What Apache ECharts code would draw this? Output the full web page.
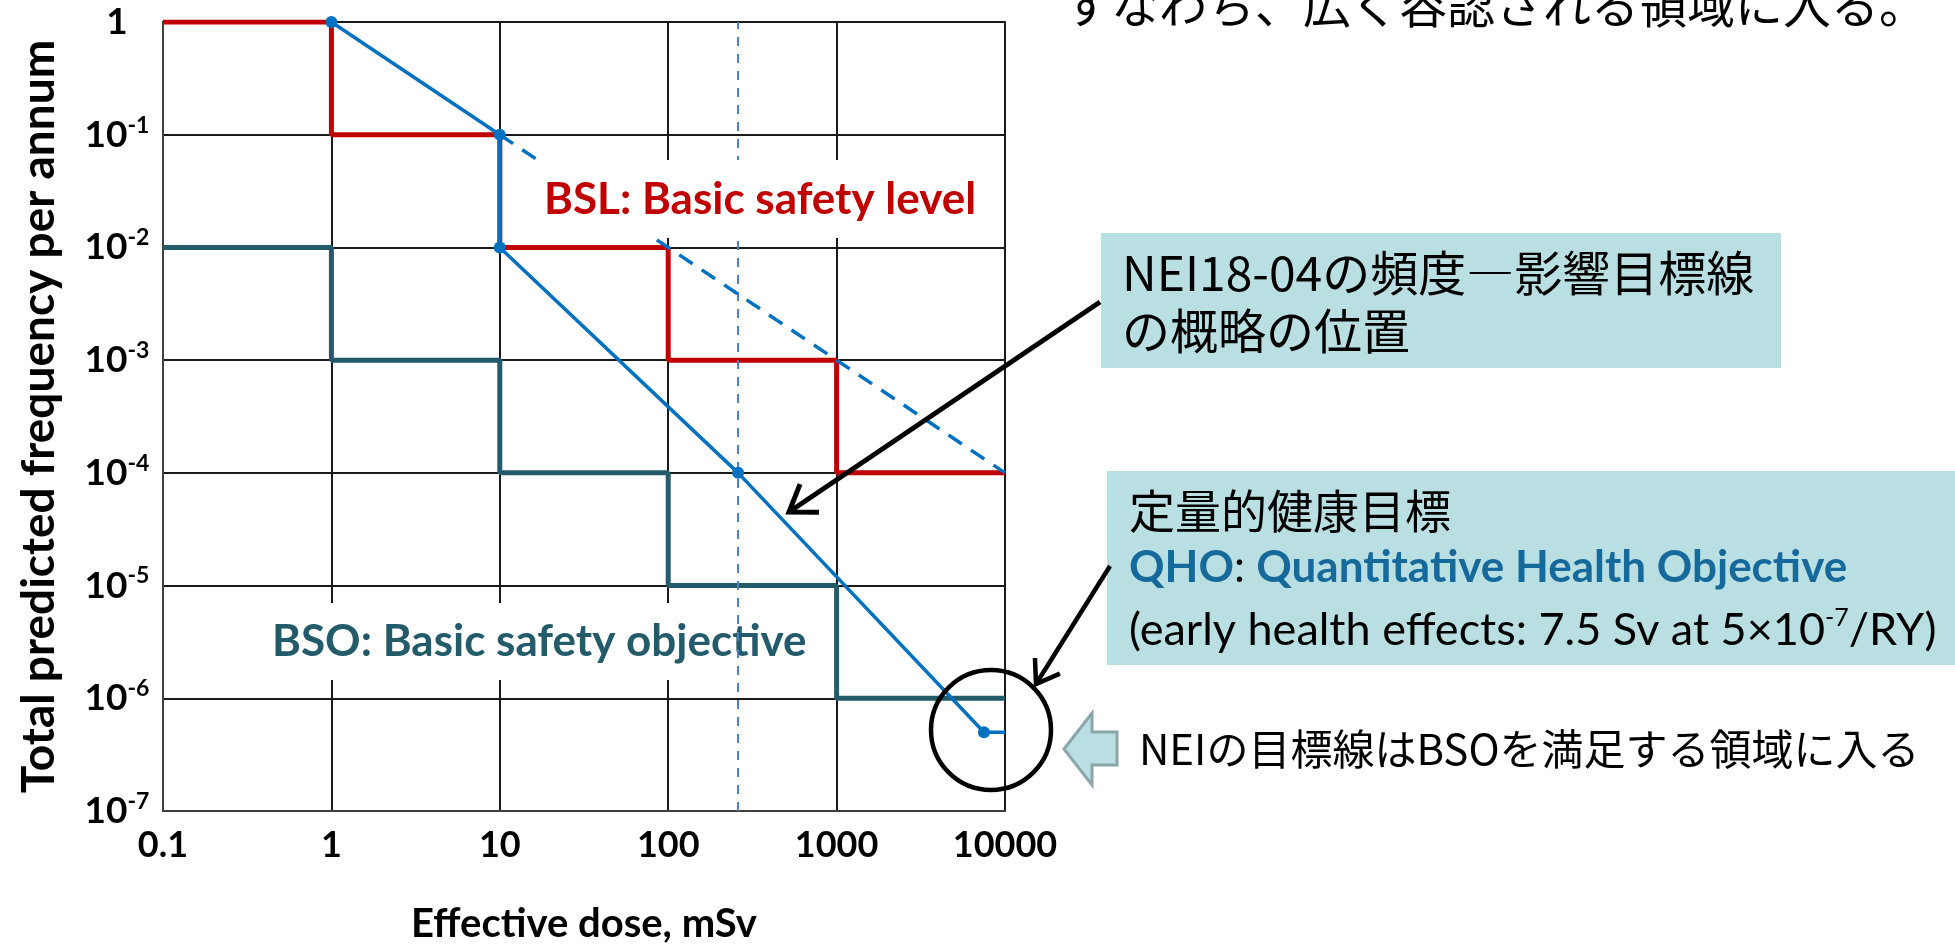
<!DOCTYPE html>
<html>
<head>
<meta charset="utf-8">
<script src="https://cdn.jsdelivr.net/npm/echarts@6/dist/echarts.min.js"></script>
<style>
html, body { margin: 0; padding: 0; background: #fff; }
#main { width: 1955px; height: 949px; }
</style>
</head>
<body>
<div id="main"></div>
<script>
/* axis ticks */
const xTicks = [0.1, 1, 10, 100, 1000, 10000]
const xTickLabels = ['0.1', '1', '10', '100', '1000', '10000']
const yTicks = [1e-7, 1e-6, 1e-5, 1e-4, 1e-3, 1e-2, 1e-1, 1]
const yTickLabels = ['{b|10}{s|-7}', '{b|10}{s|-6}', '{b|10}{s|-5}', '{b|10}{s|-4}',
	'{b|10}{s|-3}', '{b|10}{s|-2}', '{b|10}{s|-1}', '{b|1}']

/* BSL: basic safety level (step) */
const bslDose = [0.1, 1, 10, 100, 1000, 10000]
const bslFreq = [1, 1e-1, 1e-2, 1e-3, 1e-4, 1e-4]

/* BSO: basic safety objective (step) */
const bsoDose = [0.1, 1, 10, 100, 1000, 10000]
const bsoFreq = [1e-2, 1e-3, 1e-4, 1e-5, 1e-6, 1e-6]

/* NEI 18-04 frequency-consequence target */
const neiDose = [1, 10, 10, 260, 7500, 10000]
const neiFreq = [1, 1e-1, 1e-2, 1e-4, 5e-7, 5e-7]

/* dashed continuation of the first slope */
const extDose = [10, 10000]
const extFreq = [1e-1, 1e-4]

/* dashed vertical reference */
const refDose = [260, 260]
const refFreq = [1e-7, 1]

const pairs = (xs, ys) => xs.map((x, i) => [x, ys[i]])

const tickIndex = (ticks, v) => ticks.findIndex(t => Math.abs(Math.log10(t) - Math.log10(v)) < 1e-6)

const head = (tip, from, len, ang) => {
	const a = Math.atan2(from[1] - tip[1], from[0] - tip[0])
	return [
		[tip[0] + len * Math.cos(a + ang), tip[1] + len * Math.sin(a + ang)],
		tip,
		[tip[0] + len * Math.cos(a - ang), tip[1] + len * Math.sin(a - ang)]
	]
}

const LAT = 'Lato'
const JP = '"Noto Sans CJK JP"'
const BOX = '#BADFE2'

const arrow1 = { from: [1100, 302], to: [789, 512] }
const arrow2 = { from: [1110, 566], to: [1036, 684] }

const chart = echarts.init(document.getElementById('main'))

const neiData = pairs(neiDose, neiFreq).map((p, i) =>
	i === neiDose.length - 1 ? { value: p, symbol: 'none' } : p)

chart.setOption({
	animation: false,
	grid: {
		left: 163, top: 22, width: 842, height: 795,
		show: true, borderColor: '#404040', borderWidth: 2
	},
	xAxis: {
		type: 'log', logBase: 10, min: 0.1, max: 10000, splitNumber: 5,
		name: 'Effective dose, mSv', nameLocation: 'middle', nameGap: 93,
		nameTextStyle: { fontFamily: LAT, fontWeight: 'bold', fontSize: 40, color: '#000' },
		axisLine: { show: true, lineStyle: { color: '#404040', width: 2 } },
		axisTick: { show: false },
		minorTick: { show: false },
		splitLine: { show: true, lineStyle: { color: '#1a1a1a', width: 2 } },
		axisLabel: {
			margin: 16, fontFamily: LAT, fontWeight: 'bold', fontSize: 36, color: '#000',
			formatter: v => xTickLabels[tickIndex(xTicks, v)] || ''
		}
	},
	yAxis: {
		type: 'log', logBase: 10, min: 1e-7, max: 1, splitNumber: 7,
		name: 'Total predicted frequency per annum', nameLocation: 'middle', nameGap: 101,
		nameTextStyle: { fontFamily: LAT, fontWeight: 'bold', fontSize: 46, color: '#000' },
		axisLine: { show: true, lineStyle: { color: '#404040', width: 2 } },
		axisTick: { show: false },
		minorTick: { show: false },
		splitLine: { show: true, lineStyle: { color: '#1a1a1a', width: 2 } },
		axisLabel: {
			margin: 46, align: 'center', color: '#000',
			formatter: v => yTickLabels[tickIndex(yTicks, v)] || '',
			rich: {
				b: { fontFamily: LAT, fontWeight: 'bold', fontSize: 37, lineHeight: 42, color: '#000' },
				s: { fontFamily: LAT, fontWeight: 'bold', fontSize: 23, verticalAlign: 'top', color: '#000' }
			}
		}
	},
	series: [
		{
			name: 'BSL', type: 'line', step: 'end', showSymbol: false, z: 3,
			data: pairs(bslDose, bslFreq),
			lineStyle: { color: '#C00000', width: 5 }
		},
		{
			name: 'BSO', type: 'line', step: 'end', showSymbol: false, z: 3,
			data: pairs(bsoDose, bsoFreq),
			lineStyle: { color: '#235B6A', width: 5 }
		},
		{
			name: 'ref', type: 'line', showSymbol: false, z: 4,
			data: pairs(refDose, refFreq),
			lineStyle: { color: '#4A7EC4', width: 2, type: [9, 8] }
		},
		{
			name: 'ext', type: 'line', showSymbol: false, z: 4,
			data: pairs(extDose, extFreq),
			lineStyle: { color: '#0070C0', width: 3.5, type: [16, 11] }
		},
		{
			name: 'NEI', type: 'line', z: 5,
			symbol: 'circle', symbolSize: 12,
			data: neiData,
			itemStyle: { color: '#0070C0' },
			lineStyle: { color: '#0070C0', width: 3.5 }
		}
	],
	graphic: [
		/* series labels */
		{ type: 'rect', z: 1, shape: { x: 250, y: 603, width: 572, height: 77 }, style: { fill: '#fff' } },
		{ type: 'text', z: 1, x: 272, y: 642, style: {
			text: 'BSO: Basic safety objective', fill: '#235B6A',
			font: `bold 44px ${LAT}`, align: 'left', verticalAlign: 'middle' } },
		{ type: 'rect', z: 10, shape: { x: 512, y: 160, width: 490, height: 78 }, style: { fill: '#fff' } },
		{ type: 'text', z: 10, x: 544, y: 200, style: {
			text: 'BSL: Basic safety level', fill: '#C00000',
			font: `bold 44px ${LAT}`, align: 'left', verticalAlign: 'middle' } },

		/* top sentence, cut by the frame */
		{ type: 'text', z: 10, x: 1063, y: 5, style: {
			text: 'すなわち、広く容認される領域に入る。', fill: '#000',
			font: `48px ${JP}`, align: 'left', verticalAlign: 'middle' } },

		/* NEI box */
		{ type: 'rect', z: 10, shape: { x: 1101, y: 233, width: 680, height: 135 }, style: { fill: BOX } },
		{ type: 'text', z: 11, x: 1122, y: 273, style: {
			text: 'NEI18-04の頻度―影響目標線', fill: '#000',
			font: `48px ${JP}`, align: 'left', verticalAlign: 'middle' } },
		{ type: 'text', z: 11, x: 1122, y: 331, style: {
			text: 'の概略の位置', fill: '#000',
			font: `48px ${JP}`, align: 'left', verticalAlign: 'middle' } },

		/* QHO box */
		{ type: 'rect', z: 10, shape: { x: 1107, y: 471, width: 848, height: 194 }, style: { fill: BOX } },
		{ type: 'text', z: 11, x: 1129, y: 511, style: {
			text: '定量的健康目標', fill: '#000',
			font: `46px ${JP}`, align: 'left', verticalAlign: 'middle' } },
		{ type: 'text', z: 11, x: 1129, y: 568, style: {
			text: '{q|QHO}{c|: }{q|Quantitative Health Objective}',
			align: 'left', verticalAlign: 'middle',
			rich: {
				q: { fontFamily: LAT, fontWeight: 'bold', fontSize: 44, fill: '#15699B' },
				c: { fontFamily: LAT, fontSize: 44, fill: '#000' }
			} } },
		{ type: 'text', z: 11, x: 1129, y: 630, style: {
			text: '{n|(early health effects: 7.5 Sv at 5×10}{s|-7}{n|/RY)}',
			align: 'left', verticalAlign: 'middle',
			rich: {
				n: { fontFamily: LAT, fontSize: 45, lineHeight: 50, fill: '#000' },
				s: { fontFamily: LAT, fontSize: 25, verticalAlign: 'top', fill: '#000' }
			} } },

		/* arrows and circle */
		{ type: 'line', z: 12, shape: { x1: arrow1.from[0], y1: arrow1.from[1], x2: arrow1.to[0], y2: arrow1.to[1] },
			style: { stroke: '#000', lineWidth: 5 } },
		{ type: 'polyline', z: 12, shape: { points: head(arrow1.to, arrow1.from, 30, 0.6) },
			style: { stroke: '#000', lineWidth: 5, fill: null } },
		{ type: 'line', z: 12, shape: { x1: arrow2.from[0], y1: arrow2.from[1], x2: arrow2.to[0], y2: arrow2.to[1] },
			style: { stroke: '#000', lineWidth: 4.5 } },
		{ type: 'polyline', z: 12, shape: { points: head(arrow2.to, arrow2.from, 26, 0.6) },
			style: { stroke: '#000', lineWidth: 4.5, fill: null } },
		{ type: 'circle', z: 12, shape: { cx: 991, cy: 730, r: 60 },
			style: { stroke: '#000', lineWidth: 4.5, fill: null } },

		/* hollow arrow and its note */
		{ type: 'polygon', z: 12, shape: { points: [[1064, 749], [1092, 713], [1092, 732], [1117, 732],
			[1117, 765], [1092, 765], [1092, 785]] },
			style: { fill: BOX, stroke: '#8AA6A9', lineWidth: 3 } },
		{ type: 'text', z: 12, x: 1139, y: 749, style: {
			text: 'NEIの目標線はBSOを満足する領域に入る', fill: '#000',
			font: `42px ${JP}`, align: 'left', verticalAlign: 'middle' } }
	]
})

window.onresize = () => chart.resize()
</script>
</body>
</html>
